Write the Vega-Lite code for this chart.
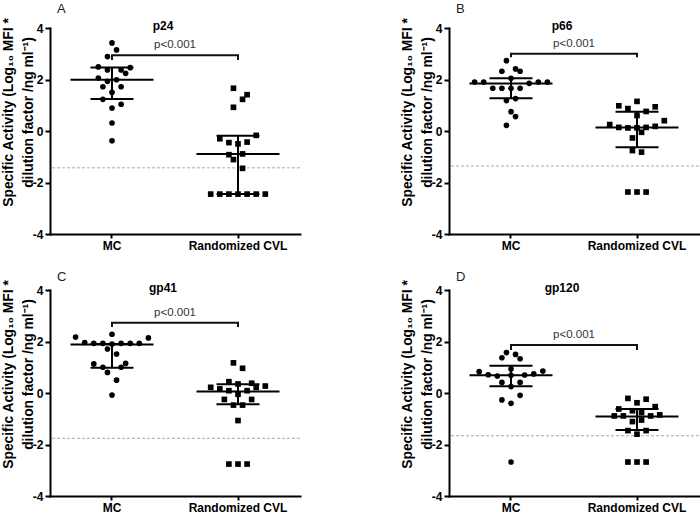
{
  "$schema": "https://vega.github.io/schema/vega-lite/v6.json",
  "background": "white",
  "padding": {"left": 1, "top": 3, "right": 0, "bottom": 0},
  "datasets": {
    "points": [
      {"panel":"A","group":"MC","slot":0,"value":3.42},{"panel":"A","group":"MC","slot":1,"value":3.15},{"panel":"A","group":"MC","slot":-1,"value":2.89},{"panel":"A","group":"MC","slot":-3,"value":2.49},{"panel":"A","group":"MC","slot":-1,"value":2.37},{"panel":"A","group":"MC","slot":2,"value":2.37},{"panel":"A","group":"MC","slot":4,"value":2.46},{"panel":"A","group":"MC","slot":3,"value":2.24},{"panel":"A","group":"MC","slot":-3,"value":2.06},{"panel":"A","group":"MC","slot":-1,"value":1.93},{"panel":"A","group":"MC","slot":1,"value":1.99},{"panel":"A","group":"MC","slot":-2,"value":1.72},{"panel":"A","group":"MC","slot":2,"value":1.72},{"panel":"A","group":"MC","slot":0,"value":1.5},{"panel":"A","group":"MC","slot":-2,"value":1.23},{"panel":"A","group":"MC","slot":0,"value":0.89},{"panel":"A","group":"MC","slot":2,"value":1.04},{"panel":"A","group":"MC","slot":0,"value":0.31},{"panel":"A","group":"MC","slot":0,"value":-0.38},
      {"panel":"A","group":"Randomized CVL","slot":-1,"value":1.66},{"panel":"A","group":"Randomized CVL","slot":2,"value":1.41},{"panel":"A","group":"Randomized CVL","slot":1,"value":1.23},{"panel":"A","group":"Randomized CVL","slot":-1,"value":0.92},{"panel":"A","group":"Randomized CVL","slot":4,"value":-0.17},{"panel":"A","group":"Randomized CVL","slot":-4,"value":-0.3},{"panel":"A","group":"Randomized CVL","slot":-2,"value":-0.45},{"panel":"A","group":"Randomized CVL","slot":0,"value":-0.5},{"panel":"A","group":"Randomized CVL","slot":2,"value":-0.43},{"panel":"A","group":"Randomized CVL","slot":-2,"value":-0.92},{"panel":"A","group":"Randomized CVL","slot":1,"value":-0.89},{"panel":"A","group":"Randomized CVL","slot":-1,"value":-1.11},{"panel":"A","group":"Randomized CVL","slot":1,"value":-1.45},{"panel":"A","group":"Randomized CVL","slot":-6,"value":-2.45},{"panel":"A","group":"Randomized CVL","slot":-4,"value":-2.45},{"panel":"A","group":"Randomized CVL","slot":-2,"value":-2.45},{"panel":"A","group":"Randomized CVL","slot":0,"value":-2.45},{"panel":"A","group":"Randomized CVL","slot":2,"value":-2.45},{"panel":"A","group":"Randomized CVL","slot":4,"value":-2.45},{"panel":"A","group":"Randomized CVL","slot":6,"value":-2.45},
      {"panel":"B","group":"MC","slot":-1,"value":2.73},{"panel":"B","group":"MC","slot":-2,"value":2.32},{"panel":"B","group":"MC","slot":1,"value":2.41},{"panel":"B","group":"MC","slot":2,"value":2.32},{"panel":"B","group":"MC","slot":-8,"value":1.9},{"panel":"B","group":"MC","slot":-6,"value":1.9},{"panel":"B","group":"MC","slot":0,"value":2.05},{"panel":"B","group":"MC","slot":4,"value":1.85},{"panel":"B","group":"MC","slot":6,"value":1.9},{"panel":"B","group":"MC","slot":8,"value":1.9},{"panel":"B","group":"MC","slot":-4,"value":1.66},{"panel":"B","group":"MC","slot":-2,"value":1.66},{"panel":"B","group":"MC","slot":0,"value":1.66},{"panel":"B","group":"MC","slot":2,"value":1.66},{"panel":"B","group":"MC","slot":-1,"value":1.18},{"panel":"B","group":"MC","slot":1,"value":1.26},{"panel":"B","group":"MC","slot":0,"value":0.75},{"panel":"B","group":"MC","slot":1,"value":0.56},{"panel":"B","group":"MC","slot":-1,"value":0.22},
      {"panel":"B","group":"Randomized CVL","slot":-4,"value":0.98},{"panel":"B","group":"Randomized CVL","slot":0,"value":1.15},{"panel":"B","group":"Randomized CVL","slot":4,"value":0.94},{"panel":"B","group":"Randomized CVL","slot":-2,"value":0.87},{"panel":"B","group":"Randomized CVL","slot":2,"value":0.76},{"panel":"B","group":"Randomized CVL","slot":0,"value":0.6},{"panel":"B","group":"Randomized CVL","slot":6,"value":0.4},{"panel":"B","group":"Randomized CVL","slot":-6,"value":0.25},{"panel":"B","group":"Randomized CVL","slot":-4,"value":0.14},{"panel":"B","group":"Randomized CVL","slot":-2,"value":0.12},{"panel":"B","group":"Randomized CVL","slot":0,"value":0.12},{"panel":"B","group":"Randomized CVL","slot":2,"value":0.14},{"panel":"B","group":"Randomized CVL","slot":4,"value":0.18},{"panel":"B","group":"Randomized CVL","slot":1,"value":-0.05},{"panel":"B","group":"Randomized CVL","slot":-1,"value":-0.27},{"panel":"B","group":"Randomized CVL","slot":-1,"value":-0.76},{"panel":"B","group":"Randomized CVL","slot":1,"value":-0.82},{"panel":"B","group":"Randomized CVL","slot":-2,"value":-2.37},{"panel":"B","group":"Randomized CVL","slot":0,"value":-2.37},{"panel":"B","group":"Randomized CVL","slot":2,"value":-2.37},
      {"panel":"C","group":"MC","slot":-8,"value":2.17},{"panel":"C","group":"MC","slot":0,"value":2.28},{"panel":"C","group":"MC","slot":8,"value":2.14},{"panel":"C","group":"MC","slot":-6,"value":1.96},{"panel":"C","group":"MC","slot":-4,"value":1.93},{"panel":"C","group":"MC","slot":-2,"value":1.93},{"panel":"C","group":"MC","slot":2,"value":1.93},{"panel":"C","group":"MC","slot":4,"value":1.93},{"panel":"C","group":"MC","slot":6,"value":1.93},{"panel":"C","group":"MC","slot":0,"value":1.9},{"panel":"C","group":"MC","slot":-1,"value":1.71},{"panel":"C","group":"MC","slot":1,"value":1.51},{"panel":"C","group":"MC","slot":-4,"value":1.13},{"panel":"C","group":"MC","slot":3,"value":1.15},{"panel":"C","group":"MC","slot":-2,"value":1.0},{"panel":"C","group":"MC","slot":2,"value":1.0},{"panel":"C","group":"MC","slot":-1,"value":0.8},{"panel":"C","group":"MC","slot":1,"value":0.5},{"panel":"C","group":"MC","slot":0,"value":-0.08},
      {"panel":"C","group":"Randomized CVL","slot":-1,"value":1.17},{"panel":"C","group":"Randomized CVL","slot":1,"value":0.96},{"panel":"C","group":"Randomized CVL","slot":-6,"value":0.22},{"panel":"C","group":"Randomized CVL","slot":-4,"value":0.16},{"panel":"C","group":"Randomized CVL","slot":-2,"value":0.44},{"panel":"C","group":"Randomized CVL","slot":0,"value":0.35},{"panel":"C","group":"Randomized CVL","slot":3,"value":0.38},{"panel":"C","group":"Randomized CVL","slot":4,"value":0.22},{"panel":"C","group":"Randomized CVL","slot":6,"value":0.27},{"panel":"C","group":"Randomized CVL","slot":-2,"value":0.09},{"panel":"C","group":"Randomized CVL","slot":0,"value":-0.05},{"panel":"C","group":"Randomized CVL","slot":2,"value":0.09},{"panel":"C","group":"Randomized CVL","slot":-3,"value":-0.25},{"panel":"C","group":"Randomized CVL","slot":3,"value":-0.25},{"panel":"C","group":"Randomized CVL","slot":-1,"value":-0.47},{"panel":"C","group":"Randomized CVL","slot":1,"value":-0.47},{"panel":"C","group":"Randomized CVL","slot":0,"value":-1.07},{"panel":"C","group":"Randomized CVL","slot":-2,"value":-2.76},{"panel":"C","group":"Randomized CVL","slot":0,"value":-2.76},{"panel":"C","group":"Randomized CVL","slot":2,"value":-2.76},
      {"panel":"D","group":"MC","slot":-1,"value":1.57},{"panel":"D","group":"MC","slot":1,"value":1.5},{"panel":"D","group":"MC","slot":-2,"value":1.37},{"panel":"D","group":"MC","slot":2,"value":1.33},{"panel":"D","group":"MC","slot":0,"value":0.93},{"panel":"D","group":"MC","slot":-7,"value":0.83},{"panel":"D","group":"MC","slot":-5,"value":0.71},{"panel":"D","group":"MC","slot":-3,"value":0.66},{"panel":"D","group":"MC","slot":0,"value":0.69},{"panel":"D","group":"MC","slot":3,"value":0.7},{"panel":"D","group":"MC","slot":5,"value":0.74},{"panel":"D","group":"MC","slot":7,"value":0.85},{"panel":"D","group":"MC","slot":-2,"value":0.41},{"panel":"D","group":"MC","slot":2,"value":0.41},{"panel":"D","group":"MC","slot":0,"value":0.25},{"panel":"D","group":"MC","slot":2,"value":-0.09},{"panel":"D","group":"MC","slot":-2,"value":-0.27},{"panel":"D","group":"MC","slot":0,"value":-0.4},{"panel":"D","group":"MC","slot":0,"value":-2.68},
      {"panel":"D","group":"Randomized CVL","slot":-2,"value":-0.21},{"panel":"D","group":"Randomized CVL","slot":0,"value":-0.38},{"panel":"D","group":"Randomized CVL","slot":2,"value":-0.24},{"panel":"D","group":"Randomized CVL","slot":-4,"value":-0.62},{"panel":"D","group":"Randomized CVL","slot":4,"value":-0.53},{"panel":"D","group":"Randomized CVL","slot":-5,"value":-0.89},{"panel":"D","group":"Randomized CVL","slot":-3,"value":-0.89},{"panel":"D","group":"Randomized CVL","slot":3,"value":-0.89},{"panel":"D","group":"Randomized CVL","slot":5,"value":-0.85},{"panel":"D","group":"Randomized CVL","slot":-1,"value":-0.69},{"panel":"D","group":"Randomized CVL","slot":1,"value":-0.76},{"panel":"D","group":"Randomized CVL","slot":-1,"value":-1.11},{"panel":"D","group":"Randomized CVL","slot":1,"value":-1.05},{"panel":"D","group":"Randomized CVL","slot":-2,"value":-1.46},{"panel":"D","group":"Randomized CVL","slot":2,"value":-1.46},{"panel":"D","group":"Randomized CVL","slot":0,"value":-1.6},{"panel":"D","group":"Randomized CVL","slot":-2,"value":-2.68},{"panel":"D","group":"Randomized CVL","slot":0,"value":-2.68},{"panel":"D","group":"Randomized CVL","slot":2,"value":-2.68}
    ],
    "summary": [
      {"panel":"A","group":"MC","median":1.99,"q1":1.24,"q3":2.47},{"panel":"A","group":"Randomized CVL","median":-0.89,"q1":-2.45,"q3":-0.18},
      {"panel":"B","group":"MC","median":1.84,"q1":1.27,"q3":2.05},{"panel":"B","group":"Randomized CVL","median":0.14,"q1":-0.63,"q3":0.75},
      {"panel":"C","group":"MC","median":1.88,"q1":0.98,"q3":1.9},{"panel":"C","group":"Randomized CVL","median":0.06,"q1":-0.44,"q3":0.34},
      {"panel":"D","group":"MC","median":0.69,"q1":0.26,"q3":1.06},{"panel":"D","group":"Randomized CVL","median":-0.91,"q1":-1.44,"q3":-0.62}
    ],
    "bracket": [
      {"panel":"A","group":"MC","order":1,"y":2.76},{"panel":"A","group":"MC","order":2,"y":2.94},{"panel":"A","group":"Randomized CVL","order":3,"y":2.94},{"panel":"A","group":"Randomized CVL","order":4,"y":2.76},
      {"panel":"B","group":"MC","order":1,"y":2.86},{"panel":"B","group":"MC","order":2,"y":3.0},{"panel":"B","group":"Randomized CVL","order":3,"y":3.0},{"panel":"B","group":"Randomized CVL","order":4,"y":2.86},
      {"panel":"C","group":"MC","order":1,"y":2.56},{"panel":"C","group":"MC","order":2,"y":2.73},{"panel":"C","group":"Randomized CVL","order":3,"y":2.73},{"panel":"C","group":"Randomized CVL","order":4,"y":2.56},
      {"panel":"D","group":"MC","order":1,"y":1.67},{"panel":"D","group":"MC","order":2,"y":1.86},{"panel":"D","group":"Randomized CVL","order":3,"y":1.86},{"panel":"D","group":"Randomized CVL","order":4,"y":1.67}
    ],
    "annot": [
      {"panel":"A","group":"MC","bracket":2.94,"threshold":-1.43,"label":"p<0.001"},
      {"panel":"B","group":"MC","bracket":3.0,"threshold":-1.36,"label":"p<0.001"},
      {"panel":"C","group":"MC","bracket":2.73,"threshold":-1.76,"label":"p<0.001"},
      {"panel":"D","group":"MC","bracket":1.86,"threshold":-1.66,"label":"p<0.001"}
    ]
  },
  "spacing": 20,
  "vconcat": [
    {"hconcat": [
      {"title": {"text": "A", "anchor": "start", "fontWeight": "normal", "fontSize": 13, "color": "#222222", "dx": 7, "offset": 1}, "vconcat": [{"width": 250, "height": 206, "title": {"text": "p24"}, "layer": [
        {"data": {"name": "annot"}, "transform": [{"filter": "datum.panel === 'A'"}], "mark": {"type": "rule", "strokeDash": [3, 2], "color": "#aaaaaa", "strokeWidth": 1}, "encoding": {"y": {"field": "threshold", "type": "quantitative", "scale": {"domain": [-4, 4], "nice": false}, "axis": {"values": [-4, -2, 0, 2, 4], "labelExpr": "replace(datum.label, '−', '-')"}, "title": ["Specific Activity (Log₁₀ MFI *", "dilution factor /ng ml⁻¹)"]}}},
        {"data": {"name": "points"}, "transform": [{"filter": "datum.panel === 'A'"}], "mark": {"type": "point", "filled": true, "opacity": 1, "color": "black", "size": 32}, "encoding": {"x": {"field": "group", "type": "nominal", "title": null, "sort": null, "scale": {"domain": ["MC", "Randomized CVL"], "paddingInner": 0.35, "paddingOuter": 0.167}}, "xOffset": {"field": "slot", "type": "quantitative", "scale": {"domain": [-9, 9]}}, "y": {"field": "value", "type": "quantitative", "scale": {"domain": [-4, 4], "nice": false}, "axis": {"values": [-4, -2, 0, 2, 4], "labelExpr": "replace(datum.label, '−', '-')"}, "title": ["Specific Activity (Log₁₀ MFI *", "dilution factor /ng ml⁻¹)"]}, "shape": {"field": "group", "type": "nominal", "scale": {"domain": ["MC", "Randomized CVL"], "range": ["circle", "square"]}, "legend": null}}},
        {"data": {"name": "summary"}, "transform": [{"filter": "datum.panel === 'A'"}], "mark": {"type": "rule", "strokeWidth": 2, "color": "black"}, "encoding": {"x": {"field": "group", "type": "nominal", "title": null}, "y": {"field": "q1", "type": "quantitative", "scale": {"domain": [-4, 4], "nice": false}, "axis": {"values": [-4, -2, 0, 2, 4], "labelExpr": "replace(datum.label, '−', '-')"}, "title": ["Specific Activity (Log₁₀ MFI *", "dilution factor /ng ml⁻¹)"]}, "y2": {"field": "q3"}}},
        {"data": {"name": "summary"}, "transform": [{"filter": "datum.panel === 'A'"}], "mark": {"type": "tick", "size": 83, "thickness": 2, "color": "black", "opacity": 1, "orient": "horizontal"}, "encoding": {"x": {"field": "group", "type": "nominal", "title": null}, "y": {"field": "median", "type": "quantitative", "scale": {"domain": [-4, 4], "nice": false}, "axis": {"values": [-4, -2, 0, 2, 4], "labelExpr": "replace(datum.label, '−', '-')"}, "title": ["Specific Activity (Log₁₀ MFI *", "dilution factor /ng ml⁻¹)"]}}},
        {"data": {"name": "summary"}, "transform": [{"filter": "datum.panel === 'A'"}], "mark": {"type": "tick", "size": 43, "thickness": 2, "color": "black", "opacity": 1, "orient": "horizontal"}, "encoding": {"x": {"field": "group", "type": "nominal", "title": null}, "y": {"field": "q1", "type": "quantitative", "scale": {"domain": [-4, 4], "nice": false}, "axis": {"values": [-4, -2, 0, 2, 4], "labelExpr": "replace(datum.label, '−', '-')"}, "title": ["Specific Activity (Log₁₀ MFI *", "dilution factor /ng ml⁻¹)"]}}},
        {"data": {"name": "summary"}, "transform": [{"filter": "datum.panel === 'A'"}], "mark": {"type": "tick", "size": 43, "thickness": 2, "color": "black", "opacity": 1, "orient": "horizontal"}, "encoding": {"x": {"field": "group", "type": "nominal", "title": null}, "y": {"field": "q3", "type": "quantitative", "scale": {"domain": [-4, 4], "nice": false}, "axis": {"values": [-4, -2, 0, 2, 4], "labelExpr": "replace(datum.label, '−', '-')"}, "title": ["Specific Activity (Log₁₀ MFI *", "dilution factor /ng ml⁻¹)"]}}},
        {"data": {"name": "bracket"}, "transform": [{"filter": "datum.panel === 'A'"}], "mark": {"type": "line", "strokeWidth": 2, "color": "#111111"}, "encoding": {"x": {"field": "group", "type": "nominal", "title": null}, "y": {"field": "y", "type": "quantitative", "scale": {"domain": [-4, 4], "nice": false}, "axis": {"values": [-4, -2, 0, 2, 4], "labelExpr": "replace(datum.label, '−', '-')"}, "title": ["Specific Activity (Log₁₀ MFI *", "dilution factor /ng ml⁻¹)"]}, "order": {"field": "order"}}},
        {"data": {"name": "annot"}, "transform": [{"filter": "datum.panel === 'A'"}], "mark": {"type": "text", "dx": 63, "dy": -10, "baseline": "middle", "align": "center", "fontSize": 11.5, "color": "#333333"}, "encoding": {"x": {"field": "group", "type": "nominal", "title": null}, "y": {"field": "bracket", "type": "quantitative", "scale": {"domain": [-4, 4], "nice": false}, "axis": {"values": [-4, -2, 0, 2, 4], "labelExpr": "replace(datum.label, '−', '-')"}, "title": ["Specific Activity (Log₁₀ MFI *", "dilution factor /ng ml⁻¹)"]}, "text": {"field": "label"}}}
      ]}]},
      {"title": {"text": "B", "anchor": "start", "fontWeight": "normal", "fontSize": 13, "color": "#222222", "dx": 7, "offset": 1}, "vconcat": [{"width": 250, "height": 206, "title": {"text": "p66"}, "layer": [
        {"data": {"name": "annot"}, "transform": [{"filter": "datum.panel === 'B'"}], "mark": {"type": "rule", "strokeDash": [3, 2], "color": "#aaaaaa", "strokeWidth": 1}, "encoding": {"y": {"field": "threshold", "type": "quantitative", "scale": {"domain": [-4, 4], "nice": false}, "axis": {"values": [-4, -2, 0, 2, 4], "labelExpr": "replace(datum.label, '−', '-')"}, "title": ["Specific Activity (Log₁₀ MFI *", "dilution factor /ng ml⁻¹)"]}}},
        {"data": {"name": "points"}, "transform": [{"filter": "datum.panel === 'B'"}], "mark": {"type": "point", "filled": true, "opacity": 1, "color": "black", "size": 32}, "encoding": {"x": {"field": "group", "type": "nominal", "title": null, "sort": null, "scale": {"domain": ["MC", "Randomized CVL"], "paddingInner": 0.35, "paddingOuter": 0.167}}, "xOffset": {"field": "slot", "type": "quantitative", "scale": {"domain": [-9, 9]}}, "y": {"field": "value", "type": "quantitative", "scale": {"domain": [-4, 4], "nice": false}, "axis": {"values": [-4, -2, 0, 2, 4], "labelExpr": "replace(datum.label, '−', '-')"}, "title": ["Specific Activity (Log₁₀ MFI *", "dilution factor /ng ml⁻¹)"]}, "shape": {"field": "group", "type": "nominal", "scale": {"domain": ["MC", "Randomized CVL"], "range": ["circle", "square"]}, "legend": null}}},
        {"data": {"name": "summary"}, "transform": [{"filter": "datum.panel === 'B'"}], "mark": {"type": "rule", "strokeWidth": 2, "color": "black"}, "encoding": {"x": {"field": "group", "type": "nominal", "title": null}, "y": {"field": "q1", "type": "quantitative", "scale": {"domain": [-4, 4], "nice": false}, "axis": {"values": [-4, -2, 0, 2, 4], "labelExpr": "replace(datum.label, '−', '-')"}, "title": ["Specific Activity (Log₁₀ MFI *", "dilution factor /ng ml⁻¹)"]}, "y2": {"field": "q3"}}},
        {"data": {"name": "summary"}, "transform": [{"filter": "datum.panel === 'B'"}], "mark": {"type": "tick", "size": 83, "thickness": 2, "color": "black", "opacity": 1, "orient": "horizontal"}, "encoding": {"x": {"field": "group", "type": "nominal", "title": null}, "y": {"field": "median", "type": "quantitative", "scale": {"domain": [-4, 4], "nice": false}, "axis": {"values": [-4, -2, 0, 2, 4], "labelExpr": "replace(datum.label, '−', '-')"}, "title": ["Specific Activity (Log₁₀ MFI *", "dilution factor /ng ml⁻¹)"]}}},
        {"data": {"name": "summary"}, "transform": [{"filter": "datum.panel === 'B'"}], "mark": {"type": "tick", "size": 43, "thickness": 2, "color": "black", "opacity": 1, "orient": "horizontal"}, "encoding": {"x": {"field": "group", "type": "nominal", "title": null}, "y": {"field": "q1", "type": "quantitative", "scale": {"domain": [-4, 4], "nice": false}, "axis": {"values": [-4, -2, 0, 2, 4], "labelExpr": "replace(datum.label, '−', '-')"}, "title": ["Specific Activity (Log₁₀ MFI *", "dilution factor /ng ml⁻¹)"]}}},
        {"data": {"name": "summary"}, "transform": [{"filter": "datum.panel === 'B'"}], "mark": {"type": "tick", "size": 43, "thickness": 2, "color": "black", "opacity": 1, "orient": "horizontal"}, "encoding": {"x": {"field": "group", "type": "nominal", "title": null}, "y": {"field": "q3", "type": "quantitative", "scale": {"domain": [-4, 4], "nice": false}, "axis": {"values": [-4, -2, 0, 2, 4], "labelExpr": "replace(datum.label, '−', '-')"}, "title": ["Specific Activity (Log₁₀ MFI *", "dilution factor /ng ml⁻¹)"]}}},
        {"data": {"name": "bracket"}, "transform": [{"filter": "datum.panel === 'B'"}], "mark": {"type": "line", "strokeWidth": 2, "color": "#111111"}, "encoding": {"x": {"field": "group", "type": "nominal", "title": null}, "y": {"field": "y", "type": "quantitative", "scale": {"domain": [-4, 4], "nice": false}, "axis": {"values": [-4, -2, 0, 2, 4], "labelExpr": "replace(datum.label, '−', '-')"}, "title": ["Specific Activity (Log₁₀ MFI *", "dilution factor /ng ml⁻¹)"]}, "order": {"field": "order"}}},
        {"data": {"name": "annot"}, "transform": [{"filter": "datum.panel === 'B'"}], "mark": {"type": "text", "dx": 63, "dy": -10, "baseline": "middle", "align": "center", "fontSize": 11.5, "color": "#333333"}, "encoding": {"x": {"field": "group", "type": "nominal", "title": null}, "y": {"field": "bracket", "type": "quantitative", "scale": {"domain": [-4, 4], "nice": false}, "axis": {"values": [-4, -2, 0, 2, 4], "labelExpr": "replace(datum.label, '−', '-')"}, "title": ["Specific Activity (Log₁₀ MFI *", "dilution factor /ng ml⁻¹)"]}, "text": {"field": "label"}}}
      ]}]}
    ], "spacing": 99},
    {"hconcat": [
      {"title": {"text": "C", "anchor": "start", "fontWeight": "normal", "fontSize": 13, "color": "#222222", "dx": 7, "offset": -5}, "vconcat": [{"width": 250, "height": 206, "title": {"text": "gp41"}, "layer": [
        {"data": {"name": "annot"}, "transform": [{"filter": "datum.panel === 'C'"}], "mark": {"type": "rule", "strokeDash": [3, 2], "color": "#aaaaaa", "strokeWidth": 1}, "encoding": {"y": {"field": "threshold", "type": "quantitative", "scale": {"domain": [-4, 4], "nice": false}, "axis": {"values": [-4, -2, 0, 2, 4], "labelExpr": "replace(datum.label, '−', '-')"}, "title": ["Specific Activity (Log₁₀ MFI *", "dilution factor /ng ml⁻¹)"]}}},
        {"data": {"name": "points"}, "transform": [{"filter": "datum.panel === 'C'"}], "mark": {"type": "point", "filled": true, "opacity": 1, "color": "black", "size": 32}, "encoding": {"x": {"field": "group", "type": "nominal", "title": null, "sort": null, "scale": {"domain": ["MC", "Randomized CVL"], "paddingInner": 0.35, "paddingOuter": 0.167}}, "xOffset": {"field": "slot", "type": "quantitative", "scale": {"domain": [-9, 9]}}, "y": {"field": "value", "type": "quantitative", "scale": {"domain": [-4, 4], "nice": false}, "axis": {"values": [-4, -2, 0, 2, 4], "labelExpr": "replace(datum.label, '−', '-')"}, "title": ["Specific Activity (Log₁₀ MFI *", "dilution factor /ng ml⁻¹)"]}, "shape": {"field": "group", "type": "nominal", "scale": {"domain": ["MC", "Randomized CVL"], "range": ["circle", "square"]}, "legend": null}}},
        {"data": {"name": "summary"}, "transform": [{"filter": "datum.panel === 'C'"}], "mark": {"type": "rule", "strokeWidth": 2, "color": "black"}, "encoding": {"x": {"field": "group", "type": "nominal", "title": null}, "y": {"field": "q1", "type": "quantitative", "scale": {"domain": [-4, 4], "nice": false}, "axis": {"values": [-4, -2, 0, 2, 4], "labelExpr": "replace(datum.label, '−', '-')"}, "title": ["Specific Activity (Log₁₀ MFI *", "dilution factor /ng ml⁻¹)"]}, "y2": {"field": "q3"}}},
        {"data": {"name": "summary"}, "transform": [{"filter": "datum.panel === 'C'"}], "mark": {"type": "tick", "size": 83, "thickness": 2, "color": "black", "opacity": 1, "orient": "horizontal"}, "encoding": {"x": {"field": "group", "type": "nominal", "title": null}, "y": {"field": "median", "type": "quantitative", "scale": {"domain": [-4, 4], "nice": false}, "axis": {"values": [-4, -2, 0, 2, 4], "labelExpr": "replace(datum.label, '−', '-')"}, "title": ["Specific Activity (Log₁₀ MFI *", "dilution factor /ng ml⁻¹)"]}}},
        {"data": {"name": "summary"}, "transform": [{"filter": "datum.panel === 'C'"}], "mark": {"type": "tick", "size": 43, "thickness": 2, "color": "black", "opacity": 1, "orient": "horizontal"}, "encoding": {"x": {"field": "group", "type": "nominal", "title": null}, "y": {"field": "q1", "type": "quantitative", "scale": {"domain": [-4, 4], "nice": false}, "axis": {"values": [-4, -2, 0, 2, 4], "labelExpr": "replace(datum.label, '−', '-')"}, "title": ["Specific Activity (Log₁₀ MFI *", "dilution factor /ng ml⁻¹)"]}}},
        {"data": {"name": "summary"}, "transform": [{"filter": "datum.panel === 'C'"}], "mark": {"type": "tick", "size": 43, "thickness": 2, "color": "black", "opacity": 1, "orient": "horizontal"}, "encoding": {"x": {"field": "group", "type": "nominal", "title": null}, "y": {"field": "q3", "type": "quantitative", "scale": {"domain": [-4, 4], "nice": false}, "axis": {"values": [-4, -2, 0, 2, 4], "labelExpr": "replace(datum.label, '−', '-')"}, "title": ["Specific Activity (Log₁₀ MFI *", "dilution factor /ng ml⁻¹)"]}}},
        {"data": {"name": "bracket"}, "transform": [{"filter": "datum.panel === 'C'"}], "mark": {"type": "line", "strokeWidth": 2, "color": "#111111"}, "encoding": {"x": {"field": "group", "type": "nominal", "title": null}, "y": {"field": "y", "type": "quantitative", "scale": {"domain": [-4, 4], "nice": false}, "axis": {"values": [-4, -2, 0, 2, 4], "labelExpr": "replace(datum.label, '−', '-')"}, "title": ["Specific Activity (Log₁₀ MFI *", "dilution factor /ng ml⁻¹)"]}, "order": {"field": "order"}}},
        {"data": {"name": "annot"}, "transform": [{"filter": "datum.panel === 'C'"}], "mark": {"type": "text", "dx": 63, "dy": -10, "baseline": "middle", "align": "center", "fontSize": 11.5, "color": "#333333"}, "encoding": {"x": {"field": "group", "type": "nominal", "title": null}, "y": {"field": "bracket", "type": "quantitative", "scale": {"domain": [-4, 4], "nice": false}, "axis": {"values": [-4, -2, 0, 2, 4], "labelExpr": "replace(datum.label, '−', '-')"}, "title": ["Specific Activity (Log₁₀ MFI *", "dilution factor /ng ml⁻¹)"]}, "text": {"field": "label"}}}
      ]}]},
      {"title": {"text": "D", "anchor": "start", "fontWeight": "normal", "fontSize": 13, "color": "#222222", "dx": 7, "offset": -5}, "vconcat": [{"width": 250, "height": 206, "title": {"text": "gp120"}, "layer": [
        {"data": {"name": "annot"}, "transform": [{"filter": "datum.panel === 'D'"}], "mark": {"type": "rule", "strokeDash": [3, 2], "color": "#aaaaaa", "strokeWidth": 1}, "encoding": {"y": {"field": "threshold", "type": "quantitative", "scale": {"domain": [-4, 4], "nice": false}, "axis": {"values": [-4, -2, 0, 2, 4], "labelExpr": "replace(datum.label, '−', '-')"}, "title": ["Specific Activity (Log₁₀ MFI *", "dilution factor /ng ml⁻¹)"]}}},
        {"data": {"name": "points"}, "transform": [{"filter": "datum.panel === 'D'"}], "mark": {"type": "point", "filled": true, "opacity": 1, "color": "black", "size": 32}, "encoding": {"x": {"field": "group", "type": "nominal", "title": null, "sort": null, "scale": {"domain": ["MC", "Randomized CVL"], "paddingInner": 0.35, "paddingOuter": 0.167}}, "xOffset": {"field": "slot", "type": "quantitative", "scale": {"domain": [-9, 9]}}, "y": {"field": "value", "type": "quantitative", "scale": {"domain": [-4, 4], "nice": false}, "axis": {"values": [-4, -2, 0, 2, 4], "labelExpr": "replace(datum.label, '−', '-')"}, "title": ["Specific Activity (Log₁₀ MFI *", "dilution factor /ng ml⁻¹)"]}, "shape": {"field": "group", "type": "nominal", "scale": {"domain": ["MC", "Randomized CVL"], "range": ["circle", "square"]}, "legend": null}}},
        {"data": {"name": "summary"}, "transform": [{"filter": "datum.panel === 'D'"}], "mark": {"type": "rule", "strokeWidth": 2, "color": "black"}, "encoding": {"x": {"field": "group", "type": "nominal", "title": null}, "y": {"field": "q1", "type": "quantitative", "scale": {"domain": [-4, 4], "nice": false}, "axis": {"values": [-4, -2, 0, 2, 4], "labelExpr": "replace(datum.label, '−', '-')"}, "title": ["Specific Activity (Log₁₀ MFI *", "dilution factor /ng ml⁻¹)"]}, "y2": {"field": "q3"}}},
        {"data": {"name": "summary"}, "transform": [{"filter": "datum.panel === 'D'"}], "mark": {"type": "tick", "size": 83, "thickness": 2, "color": "black", "opacity": 1, "orient": "horizontal"}, "encoding": {"x": {"field": "group", "type": "nominal", "title": null}, "y": {"field": "median", "type": "quantitative", "scale": {"domain": [-4, 4], "nice": false}, "axis": {"values": [-4, -2, 0, 2, 4], "labelExpr": "replace(datum.label, '−', '-')"}, "title": ["Specific Activity (Log₁₀ MFI *", "dilution factor /ng ml⁻¹)"]}}},
        {"data": {"name": "summary"}, "transform": [{"filter": "datum.panel === 'D'"}], "mark": {"type": "tick", "size": 43, "thickness": 2, "color": "black", "opacity": 1, "orient": "horizontal"}, "encoding": {"x": {"field": "group", "type": "nominal", "title": null}, "y": {"field": "q1", "type": "quantitative", "scale": {"domain": [-4, 4], "nice": false}, "axis": {"values": [-4, -2, 0, 2, 4], "labelExpr": "replace(datum.label, '−', '-')"}, "title": ["Specific Activity (Log₁₀ MFI *", "dilution factor /ng ml⁻¹)"]}}},
        {"data": {"name": "summary"}, "transform": [{"filter": "datum.panel === 'D'"}], "mark": {"type": "tick", "size": 43, "thickness": 2, "color": "black", "opacity": 1, "orient": "horizontal"}, "encoding": {"x": {"field": "group", "type": "nominal", "title": null}, "y": {"field": "q3", "type": "quantitative", "scale": {"domain": [-4, 4], "nice": false}, "axis": {"values": [-4, -2, 0, 2, 4], "labelExpr": "replace(datum.label, '−', '-')"}, "title": ["Specific Activity (Log₁₀ MFI *", "dilution factor /ng ml⁻¹)"]}}},
        {"data": {"name": "bracket"}, "transform": [{"filter": "datum.panel === 'D'"}], "mark": {"type": "line", "strokeWidth": 2, "color": "#111111"}, "encoding": {"x": {"field": "group", "type": "nominal", "title": null}, "y": {"field": "y", "type": "quantitative", "scale": {"domain": [-4, 4], "nice": false}, "axis": {"values": [-4, -2, 0, 2, 4], "labelExpr": "replace(datum.label, '−', '-')"}, "title": ["Specific Activity (Log₁₀ MFI *", "dilution factor /ng ml⁻¹)"]}, "order": {"field": "order"}}},
        {"data": {"name": "annot"}, "transform": [{"filter": "datum.panel === 'D'"}], "mark": {"type": "text", "dx": 63, "dy": -10, "baseline": "middle", "align": "center", "fontSize": 11.5, "color": "#333333"}, "encoding": {"x": {"field": "group", "type": "nominal", "title": null}, "y": {"field": "bracket", "type": "quantitative", "scale": {"domain": [-4, 4], "nice": false}, "axis": {"values": [-4, -2, 0, 2, 4], "labelExpr": "replace(datum.label, '−', '-')"}, "title": ["Specific Activity (Log₁₀ MFI *", "dilution factor /ng ml⁻¹)"]}, "text": {"field": "label"}}}
      ]}]}
    ], "spacing": 99}
  ],
  "config": {
    "font": "Liberation Sans",
    "view": {"stroke": null},
    "axis": {"domainColor": "black", "domainWidth": 2, "domainCap": "square", "tickColor": "black", "tickWidth": 2, "labelColor": "black", "labelFontWeight": "bold", "labelFontSize": 12, "labelFont": "Liberation Sans", "grid": false, "titleFont": "Liberation Sans", "titleColor": "black", "titleFontWeight": "bold", "titleFontSize": 13.8},
    "axisX": {"tickSize": 4, "labelPadding": 2, "labelAngle": 0},
    "axisY": {"tickSize": 5, "labelPadding": 2, "titleLineHeight": 20, "titlePadding": -3, "titleY": 84},
    "title": {"font": "Liberation Sans", "fontSize": 12, "fontWeight": "bold", "color": "black", "anchor": "middle", "frame": "group", "offset": -16, "dx": -12}
  }
}
